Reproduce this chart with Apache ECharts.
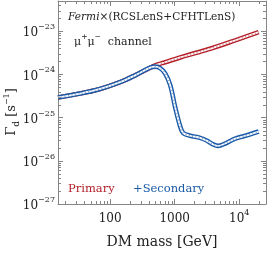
<!DOCTYPE html>
<html><head><meta charset="utf-8">
<script src="https://cdn.jsdelivr.net/npm/echarts@6/dist/echarts.min.js"></script>
<style>html,body{margin:0;padding:0;background:#fff}#c{width:270px;height:254px}</style>
</head><body><div id="c"></div>
<script>
// DM mass [GeV] and decay-rate limit Γd [s^-1]
const massPrimary = [15.6, 34.3, 70, 143, 244, 417, 499, 713, 1217, 2150, 3953, 8670, 20000];
const gammaPrimary = [2.93e-25, 3.6e-25, 4.6e-25, 6.6e-25, 9.5e-25, 1.43e-24, 1.62e-24, 1.91e-24, 2.47e-24, 3.16e-24, 4.13e-24, 6.15e-24, 9.5e-24];
const massSecondary = [15.6, 34.3, 70, 143, 244, 417, 499, 596, 713, 852, 1018, 1217, 1355, 1740, 2483, 3190, 3953, 4725, 6065, 8670, 12400, 20000];
const gammaSecondary = [2.93e-25, 3.6e-25, 4.6e-25, 6.6e-25, 9.5e-25, 1.43e-24, 1.51e-24, 1.39e-24, 1.05e-24, 5.7e-25, 1.75e-25, 6.3e-26, 4.4e-26, 3.8e-26, 3.4e-26, 2.9e-26, 2.39e-26, 2.21e-26, 2.51e-26, 3.25e-26, 3.8e-26, 4.76e-26];
// tick values
const xMajorTicks = [100, 1000, 10000];
const xMinorTicks = [20, 30, 40, 50, 60, 70, 80, 90, 200, 300, 400, 500, 600, 700, 800, 900, 2000, 3000, 4000, 5000, 6000, 7000, 8000, 9000, 20000];
const yMajorTicks = [1e-27, 1e-26, 1e-25, 1e-24, 1e-23];
const yMinorTicks = [2e-27, 3e-27, 4e-27, 5e-27, 6e-27, 7e-27, 8e-27, 9e-27, 2e-26, 3e-26, 4e-26, 5e-26, 6e-26, 7e-26, 8e-26, 9e-26, 2e-25, 3e-25, 4e-25, 5e-25, 6e-25, 7e-25, 8e-25, 9e-25, 2e-24, 3e-24, 4e-24, 5e-24, 6e-24, 7e-24, 8e-24, 9e-24, 2e-23, 3e-23, 4e-23];
const X_MIN = 15.6, X_MAX = 26000, Y_MIN = 1e-27, Y_MAX = 5e-23;

const RED = '#b3202a', BLUE = '#1a5aa8', AX = '#858585', TXT = '#222';
const FONT = 'DejaVu Serif';

const L = Math.log10;
const pairs = (m, g) => m.map((v, i) => [L(v), L(g[i])]);
const LX0 = L(X_MIN), LX1 = L(X_MAX), LY0 = L(Y_MIN), LY1 = L(Y_MAX);

const chart = echarts.init(document.getElementById('c'), null, {renderer: 'canvas'});

const supRich = {
  b: {fontFamily: FONT, fontSize: 12, color: TXT, lineHeight: 16, verticalAlign: 'bottom'},
  s: {fontFamily: FONT, fontSize: 8, color: TXT, lineHeight: 16, verticalAlign: 'top'}
};

function axis(pos, lo, hi, ticks, label) {
  return {
    type: 'value', position: pos, min: lo, max: hi, scale: true,
    axisLine: {show: true, onZero: false, lineStyle: {color: AX, width: 1}},
    axisTick: {show: true, inside: true, length: 5, customValues: ticks.map(L), lineStyle: {color: AX, width: 1}},
    splitLine: {show: false},
    axisLabel: label ? Object.assign({customValues: ticks.map(L)}, label) : {show: false}
  };
}

function band(name, data, color, z) {
  return [
    {name: name, type: 'line', data: data, smooth: 0.35, symbol: 'none', z: z,
     lineStyle: {color: color, width: 4.6}, silent: true},
    {name: name + '_in', type: 'line', data: data, smooth: 0.35, symbol: 'none', z: z + 1,
     lineStyle: {color: '#fff', width: 1.8}, silent: true},
    {name: name + '_h', type: 'line', data: data, smooth: 0.35, symbol: 'none', z: z + 2,
     lineStyle: {color: color, width: 1.4, type: [1.2, 2.2], opacity: 0.45}, silent: true}
  ];
}

const tickLine = (x1, y1, x2, y2) => ({type: 'line', shape: {x1: x1, y1: y1, x2: x2, y2: y2}, style: {stroke: AX, lineWidth: 1}});

const option = {
  animation: false,
  grid: {left: 58, right: 4, top: 1, bottom: 43},
  xAxis: [
    Object.assign(axis('bottom', LX0, LX1, xMajorTicks, {
      show: true, margin: 5, fontFamily: FONT, fontSize: 12, color: TXT, rich: supRich,
      formatter: v => { const e = Math.round(v); return e >= 4 ? '{b|10}{s|' + e + '}' : '{b|' + Math.pow(10, e) + '}'; }
    }), {name: 'DM mass [GeV]', nameLocation: 'middle', nameGap: 31,
         nameTextStyle: {fontFamily: FONT, fontSize: 14, color: TXT}}),
    axis('top', LX0, LX1, xMajorTicks, null)
  ],
  yAxis: [
    axis('left', LY0, LY1, yMajorTicks, {
      show: true, margin: 3, rich: supRich,
      formatter: v => '{b|10}{s|\u2212' + Math.abs(Math.round(v)) + '}'
    }),
    axis('right', LY0, LY1, yMajorTicks, null)
  ],
  series: [
    ...band('Primary', pairs(massPrimary, gammaPrimary), RED, 3),
    ...band('+Secondary', pairs(massSecondary, gammaSecondary), BLUE, 6),
    {type: 'custom', silent: true, z: 20, clip: false,
     data: xMinorTicks.map(v => [L(v), LY0]),
     renderItem: (params, api) => {
       const v = api.value(0);
       const b = api.coord([v, LY0]), t = api.coord([v, LY1]);
       const x = Math.round(b[0]) + 0.5;
       return {type: 'group', children: [tickLine(x, b[1], x, b[1] - 3), tickLine(x, t[1], x, t[1] + 3)]};
     }},
    {type: 'custom', silent: true, z: 20, clip: false,
     data: yMinorTicks.map(v => [LX0, L(v)]),
     renderItem: (params, api) => {
       const v = api.value(1);
       const l = api.coord([LX0, v]), r = api.coord([LX1, v]);
       const y = Math.round(l[1]) + 0.5;
       return {type: 'group', children: [tickLine(l[0], y, l[0] + 3, y), tickLine(r[0], y, r[0] - 3, y)]};
     }}
  ],
  graphic: [
    {type: 'text', left: 68, top: 12, silent: true,
     style: {text: '{i|Fermi}{n|×(RCSLenS+CFHTLenS)}', rich: {
       i: {fontFamily: FONT, fontStyle: 'italic', fontSize: 10.6, fill: TXT},
       n: {fontFamily: FONT, fontSize: 10.6, fill: TXT}}}},
    {type: 'text', left: 74, top: 33, silent: true,
     style: {text: '{m|μ}{s|+}{m|μ}{s|\u2212}{m|  channel}', rich: {
       m: {fontFamily: FONT, fontSize: 11, fill: TXT, lineHeight: 15, verticalAlign: 'bottom'},
       s: {fontFamily: FONT, fontSize: 7.5, fill: TXT, lineHeight: 15, verticalAlign: 'top'}}}},
    {type: 'text', left: 68, top: 183, silent: true,
     style: {text: 'Primary', fontFamily: FONT, fontSize: 11.5, fill: RED}},
    {type: 'text', left: 133, top: 183, silent: true,
     style: {text: '+Secondary', fontFamily: FONT, fontSize: 11.5, fill: BLUE}},
    {type: 'text', x: 12, y: 112, rotation: Math.PI / 2, silent: true,
     style: {text: '{g|Γ}{d|d}{g| [s}{s|\u22121}{g|]}', align: 'center', verticalAlign: 'middle', rich: {
       g: {fontFamily: FONT, fontSize: 13, fill: TXT, lineHeight: 18, verticalAlign: 'middle'},
       d: {fontFamily: FONT, fontSize: 9, fill: TXT, lineHeight: 18, verticalAlign: 'bottom'},
       s: {fontFamily: FONT, fontSize: 8, fill: TXT, lineHeight: 18, verticalAlign: 'top'}}}}
  ]
};
chart.setOption(option);
</script></body></html>
